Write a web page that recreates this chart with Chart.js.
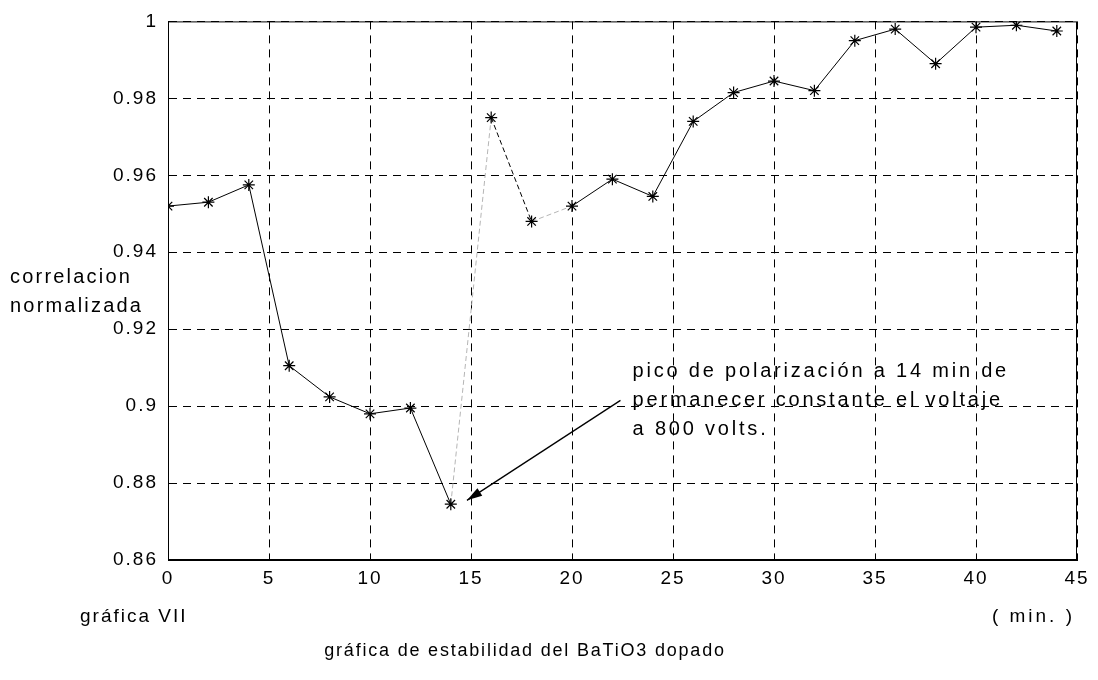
<!DOCTYPE html>
<html>
<head>
<meta charset="utf-8">
<script src="https://cdn.jsdelivr.net/npm/chart.js@4"></script>
<style>
  html, body { margin: 0; padding: 0; background: #fff; }
  #wrap { width: 1098px; height: 680px; }
</style>
</head>
<body>
<div id="wrap"><canvas id="chart" width="1098" height="680"></canvas></div>
<script>
// minutes and normalised correlation
const minutes = [0, 2, 4, 6, 8, 10, 12, 14, 16, 18, 20, 22, 24, 26, 28, 30, 32, 34, 36, 38, 40, 42, 44];
const correlation = [0.952, 0.953, 0.9575, 0.9105, 0.9024, 0.898, 0.8995, 0.8745, 0.975, 0.948, 0.952, 0.959,
    0.9545, 0.974, 0.9815, 0.9845, 0.982, 0.995, 0.998, 0.989, 0.9985, 0.999, 0.9975];
const xTicks = [0, 5, 10, 15, 20, 25, 30, 35, 40, 45];
const yTicks = [0.86, 0.88, 0.9, 0.92, 0.94, 0.96, 0.98, 1];
const yLabelLines = ['correlacion', 'normalizada'];
const noteLines = ['pico de polarización a 14 min de', 'permanecer constante el voltaje', 'a 800 volts.'];
const fadedSegments = [7, 9];   // faint strokes in the scan (14->16, 18->20)
const dashedSegments = [8];     // 16->18

const FONT = '"Liberation Sans", Arial, sans-serif';

const textPlugin = {
    id: 'texts',
    beforeDraw(chart) {
        chart.ctx.letterSpacing = '2px';
    },
    afterDraw(chart) {
        const ctx = chart.ctx;
        const area = chart.chartArea;
        const x = chart.scales.x;
        const y = chart.scales.y;
        ctx.save();

        // box around the plot
        ctx.strokeStyle = '#000';
        ctx.lineWidth = 1;
        ctx.setLineDash([]);
        ctx.strokeRect(area.left + 0.5, area.top + 0.5, area.right - area.left - 1, area.bottom - area.top - 1);

        ctx.fillStyle = '#000';
        ctx.textBaseline = 'middle';
        ctx.textAlign = 'left';
        ctx.font = '20px ' + FONT;
        ctx.letterSpacing = '2.2px';
        ctx.fillText(yLabelLines[0], 10, 277);
        ctx.fillText(yLabelLines[1], 10, 306);

        ctx.font = '19px ' + FONT;
        ctx.letterSpacing = '2px';
        ctx.fillText('gráfica VII', 80, 617);
        ctx.textAlign = 'right';
        ctx.letterSpacing = '3px';
        ctx.fillText('( min. )', 1075, 617);
        ctx.textAlign = 'center';
        ctx.font = '18px ' + FONT;
        ctx.letterSpacing = '1.8px';
        ctx.fillText('gráfica de estabilidad del BaTiO3 dopado', 525, 651);

        // note
        ctx.textAlign = 'left';
        ctx.font = '20px ' + FONT;
        ctx.letterSpacing = '2.8px';
        const nx = x.getPixelForValue(23);
        const ny = y.getPixelForValue(0.909);
        noteLines.forEach((line, i) => {
            ctx.fillText(line, nx, ny + i * 29);
        });

        // arrow pointing at the 14 min point
        const x0 = x.getPixelForValue(22.4), y0 = y.getPixelForValue(0.9015);
        const x1 = x.getPixelForValue(14.8), y1 = y.getPixelForValue(0.8755);
        ctx.beginPath();
        ctx.moveTo(x0, y0);
        ctx.lineTo(x1, y1);
        ctx.lineWidth = 1.3;
        ctx.stroke();
        const ang = Math.atan2(y1 - y0, x1 - x0);
        const len = 16, half = 0.28;
        ctx.beginPath();
        ctx.moveTo(x1, y1);
        ctx.lineTo(x1 - len * Math.cos(ang - half), y1 - len * Math.sin(ang - half));
        ctx.lineTo(x1 - len * Math.cos(ang + half), y1 - len * Math.sin(ang + half));
        ctx.closePath();
        ctx.fill();
        ctx.restore();
    }
};

new Chart(document.getElementById('chart'), {
    type: 'line',
    data: {
        datasets: [{
            data: minutes.map((m, i) => ({ x: m, y: correlation[i] })),
            borderColor: '#000',
            borderWidth: 1,
            pointStyle: 'star',
            pointRadius: 6,
            pointBorderWidth: 1.2,
            pointBorderColor: '#000',
            pointBackgroundColor: '#000',
            tension: 0,
            segment: {
                borderColor: ctx => fadedSegments.includes(ctx.p0DataIndex) ? '#b5b5b5' : '#000',
                borderDash: ctx => (fadedSegments.includes(ctx.p0DataIndex) || dashedSegments.includes(ctx.p0DataIndex)) ? [5, 3] : []
            }
        }]
    },
    options: {
        responsive: false,
        animation: false,
        layout: { padding: { top: 19, right: 21, left: 0, bottom: 0 } },
        plugins: {
            legend: { display: false },
            tooltip: { enabled: false }
        },
        scales: {
            x: {
                type: 'linear',
                min: 0,
                max: 45,
                afterBuildTicks: scale => { scale.ticks = xTicks.map(v => ({ value: v })); },
                afterFit: scale => { scale.height = 120; },
                ticks: {
                    color: '#000',
                    font: { family: FONT, size: 19 },
                    padding: 7,
                    maxRotation: 0
                },
                grid: { color: '#000', lineWidth: 1, drawTicks: false },
                border: { color: '#000', dash: [8, 6] }
            },
            y: {
                min: 0.86,
                max: 1,
                afterBuildTicks: scale => { scale.ticks = yTicks.map(v => ({ value: v })); },
                afterFit: scale => { scale.width = 168; },
                ticks: {
                    color: '#000',
                    font: { family: FONT, size: 19 },
                    padding: 10,
                    callback: v => String(Number(v.toFixed(2)))
                },
                grid: { color: '#000', lineWidth: 1, drawTicks: false },
                border: { color: '#000', dash: [8, 6] }
            }
        }
    },
    plugins: [textPlugin]
});
</script>
</body>
</html>
